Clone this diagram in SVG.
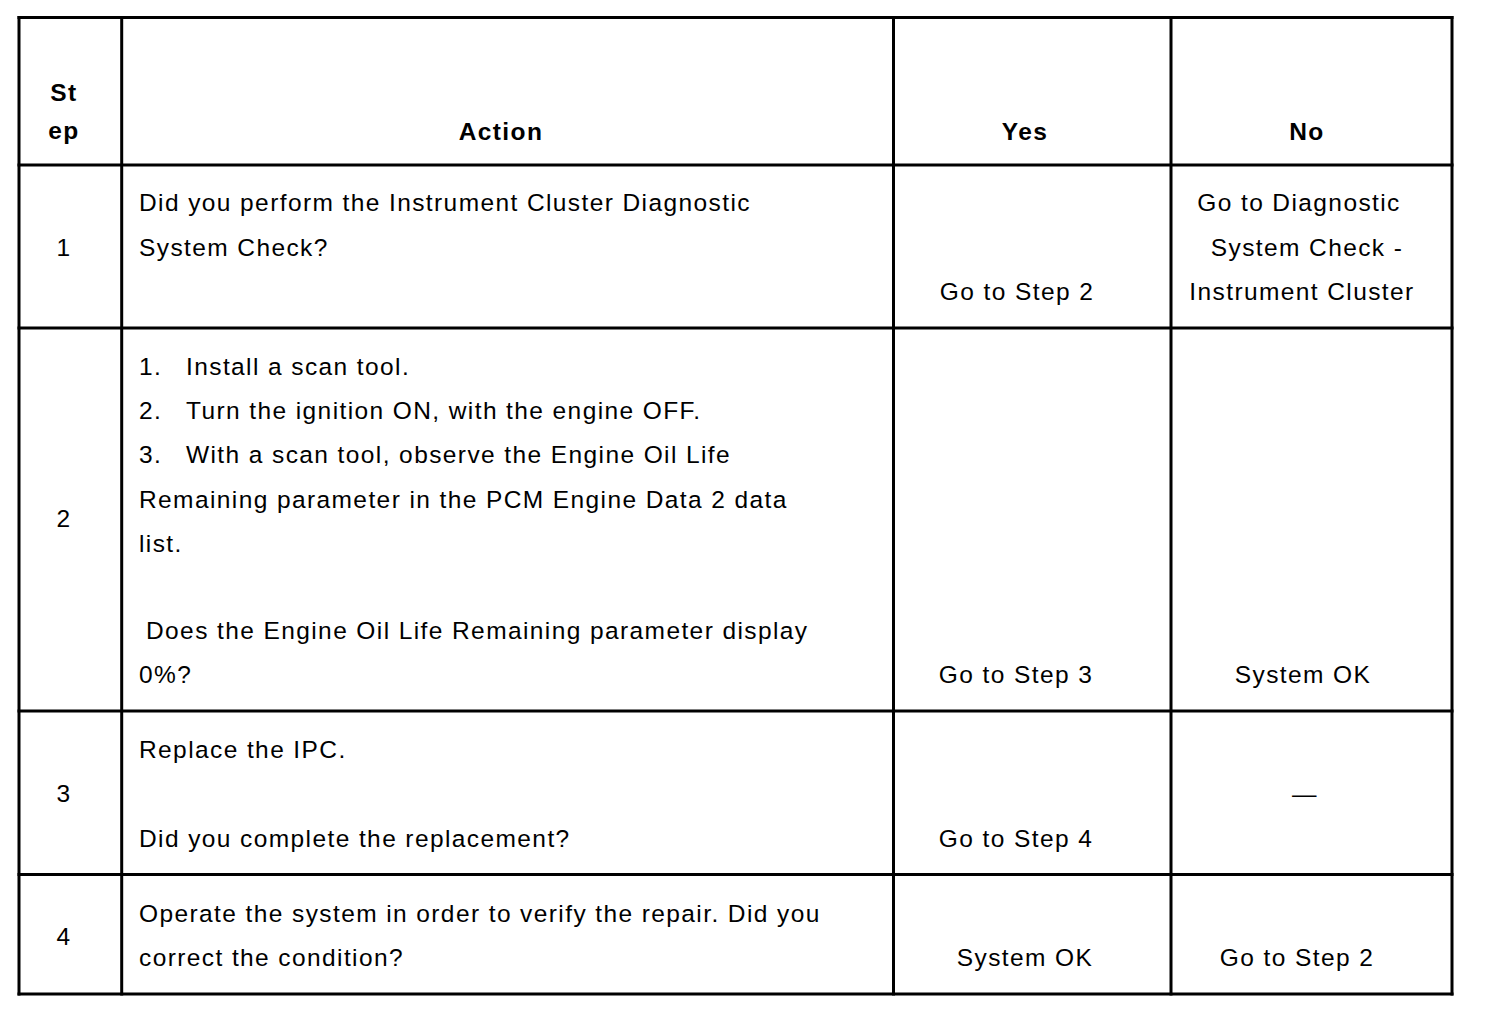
<svg xmlns="http://www.w3.org/2000/svg" width="1504" height="1014" viewBox="0 0 1504 1014">
<style>
text{font-family:"Liberation Sans",Arial,sans-serif;font-size:24.5px;fill:#000;letter-spacing:1.4px}
.b{font-weight:bold}
.c{text-anchor:middle}
.grid line{stroke:#000;stroke-width:3;stroke-linecap:square}
</style>
<rect width="1504" height="1014" fill="#fff"/>
<g id="grid" class="grid">
<line x1="19" y1="17.5" x2="1452" y2="17.5"/>
<line x1="19" y1="165" x2="1452" y2="165"/>
<line x1="19" y1="328" x2="1452" y2="328"/>
<line x1="19" y1="711" x2="1452" y2="711"/>
<line x1="19" y1="874.5" x2="1452" y2="874.5"/>
<line x1="19" y1="994" x2="1452" y2="994"/>
<line x1="19" y1="17.5" x2="19" y2="994"/>
<line x1="121.7" y1="17.5" x2="121.7" y2="994"/>
<line x1="893.5" y1="17.5" x2="893.5" y2="994"/>
<line x1="1171" y1="17.5" x2="1171" y2="994"/>
<line x1="1452" y1="17.5" x2="1452" y2="994"/>
</g>
<g id="header">
<text class="b c" x="64" y="101">St</text>
<text class="b c" x="64" y="139">ep</text>
<text class="b c" x="501" y="140">Action</text>
<text class="b c" x="1025" y="140">Yes</text>
<text class="b c" x="1307" y="140">No</text>
</g>
<g id="step1">
<text class="c" x="64" y="256">1</text>
<text x="139" y="211">Did you perform the Instrument Cluster Diagnostic</text>
<text x="139" y="256">System Check?</text>
<text class="c" x="1017" y="300">Go to Step 2</text>
<text class="c" x="1299" y="211">Go to Diagnostic</text>
<text class="c" x="1307" y="256">System Check -</text>
<text class="c" x="1302" y="300">Instrument Cluster</text>
</g>
<g id="step2">
<text class="c" x="64" y="527">2</text>
<text x="139" y="375">1.</text>
<text x="186" y="375">Install a scan tool.</text>
<text x="139" y="419">2.</text>
<text x="186" y="419">Turn the ignition ON, with the engine OFF.</text>
<text x="139" y="463">3.</text>
<text x="186" y="463">With a scan tool, observe the Engine Oil Life</text>
<text x="139" y="508">Remaining parameter in the PCM Engine Data 2 data</text>
<text x="139" y="552">list.</text>
<text x="146" y="639">Does the Engine Oil Life Remaining parameter display</text>
<text x="139" y="683">0%?</text>
<text class="c" x="1016" y="683">Go to Step 3</text>
<text class="c" x="1303" y="683">System OK</text>
</g>
<g id="step3">
<text class="c" x="64" y="802">3</text>
<text x="139" y="758">Replace the IPC.</text>
<text x="139" y="847">Did you complete the replacement?</text>
<text class="c" x="1016" y="847">Go to Step 4</text>
<text class="c" x="1305" y="802">—</text>
</g>
<g id="step4">
<text class="c" x="64" y="945">4</text>
<text x="139" y="922">Operate the system in order to verify the repair. Did you</text>
<text x="139" y="966">correct the condition?</text>
<text class="c" x="1025" y="966">System OK</text>
<text class="c" x="1297" y="966">Go to Step 2</text>
</g>
</svg>
